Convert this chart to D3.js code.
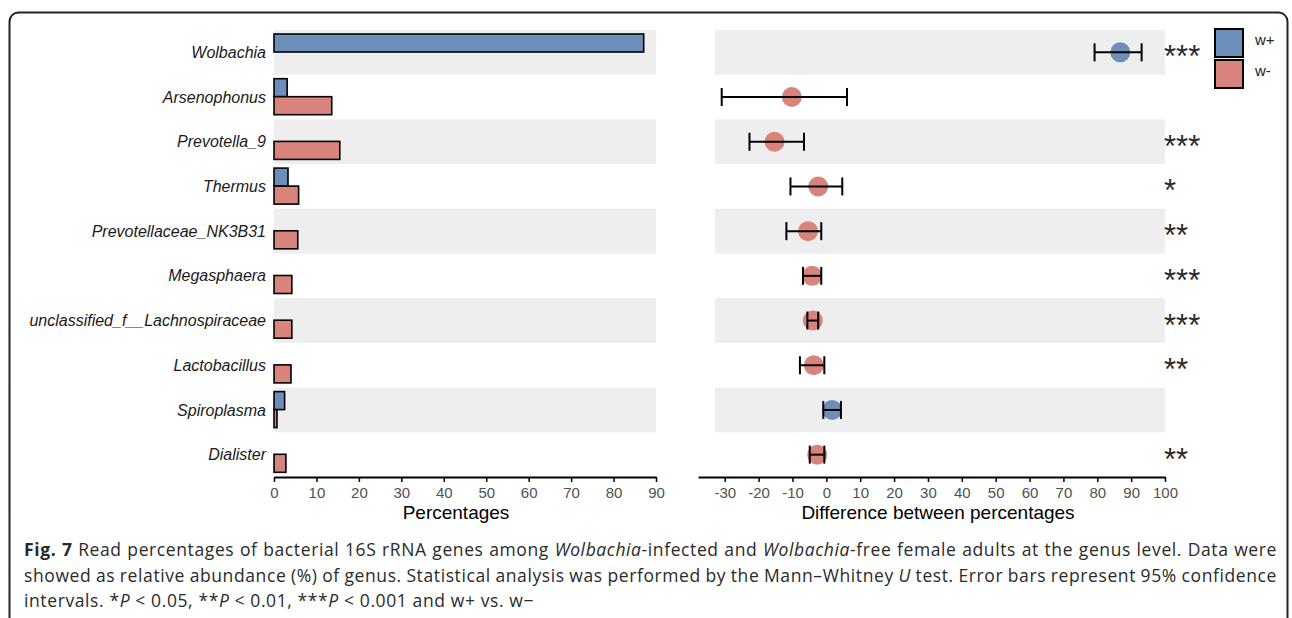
<!DOCTYPE html>
<html>
<head>
<meta charset="utf-8">
<script src="https://cdn.jsdelivr.net/npm/d3@7"></script>
<style>
  body { margin: 0; background: #fff; }
  svg { display: block; }
</style>
</head>
<body>
<script>
// genus level read percentages, w+ vs w-
var genera = ["Wolbachia", "Arsenophonus", "Prevotella_9", "Thermus", "Prevotellaceae_NK3B31",
    "Megasphaera", "unclassified_f__Lachnospiraceae", "Lactobacillus", "Spiroplasma", "Dialister"];
var wPlus  = [87.1, 3.1, 0, 3.3, 0, 0, 0, 0, 2.5, 0];
var wMinus = [0, 13.6, 15.5, 5.8, 5.6, 4.2, 4.2, 4.0, 0.7, 2.8];
// difference between percentages with 95% CI
var diff   = [86.8, -10.2, -15.3, -2.4, -5.4, -4.2, -4.0, -3.7, 1.7, -2.7];
var ciLow  = [79.2, -30.9, -22.7, -10.6, -11.8, -6.9, -5.6, -7.8, -0.9, -4.9];
var ciHigh = [93.1, 6.1, -6.6, 4.7, -1.5, -1.5, -2.4, -0.6, 4.3, -0.6];
var stars  = ["***", "", "***", "*", "**", "***", "***", "**", "", "**"];
var leftTicks = d3.range(0, 91, 10);
var rightTicks = d3.range(-30, 101, 10);
var groups = ["w+", "w-"];

var blue = "#6b8fb8", red = "#d8847c";
var W = 1292, H = 618;

var svg = d3.select("body").append("svg")
    .attr("width", W)
    .attr("height", H);

// frame
svg.append("rect")
    .attr("x", 9.5).attr("y", 12.5)
    .attr("width", 1278).attr("height", 640)
    .attr("rx", 9)
    .style("fill", "none")
    .style("stroke", "#222")
    .style("stroke-width", 2);

var y = d3.scaleBand().domain(genera).range([30, 477]);
var xL = d3.scaleLinear().domain([0, 90]).range([274, 656]);
var xR = d3.scaleLinear().domain([-37.9, 100]).range([698, 1165]);

// grey bands on alternate rows
var striped = genera.filter((g, i) => i % 2 == 0);
svg.selectAll(".bandL").data(striped).enter().append("rect")
    .attr("x", xL(0)).attr("width", xL(90) - xL(0))
    .attr("y", d => y(d)).attr("height", y.bandwidth())
    .style("fill", "#eeeeee");
svg.selectAll(".bandR").data(striped).enter().append("rect")
    .attr("x", xR(-32.9)).attr("width", xR(100) - xR(-32.9))
    .attr("y", d => y(d)).attr("height", y.bandwidth())
    .style("fill", "#eeeeee");

// labels
svg.selectAll(".lab").data(genera).enter().append("text")
    .attr("x", 266)
    .attr("y", d => y(d) + y.bandwidth() / 2)
    .attr("dy", "0.35em")
    .attr("text-anchor", "end")
    .style("font-family", "'Liberation Sans', Arial, sans-serif")
    .style("font-style", "italic")
    .style("font-size", "16px")
    .style("fill", "#1a1a1a")
    .text(d => d);

// bars
var barH = 18;
var bars = [];
genera.forEach(function (g, i) {
    bars.push({g: g, v: wPlus[i], k: 0});
    bars.push({g: g, v: wMinus[i], k: 1});
});
svg.selectAll(".bar").data(bars).enter().append("rect")
    .attr("x", xL(0))
    .attr("y", d => y(d.g) + 4 + d.k * barH)
    .attr("width", d => xL(d.v) - xL(0))
    .attr("height", barH)
    .style("fill", d => d.k == 0 ? blue : red)
    .style("stroke", "#000")
    .style("stroke-width", 1.6);

// axes
function styleAxis(g) {
    g.select(".domain").style("stroke", "#000").style("stroke-width", 2);
    g.selectAll(".tick line").style("stroke", "#000").style("stroke-width", 1.5);
    g.selectAll(".tick text")
        .style("font-family", "'Liberation Sans', Arial, sans-serif")
        .style("font-size", "15px")
        .style("fill", "#505050");
}
svg.append("g")
    .attr("transform", "translate(0,477)")
    .call(d3.axisBottom(xL).tickValues(leftTicks).tickFormat(d => String(d))
        .tickSize(5).tickPadding(5).tickSizeOuter(0))
    .call(styleAxis);
svg.append("g")
    .attr("transform", "translate(0,477)")
    .call(d3.axisBottom(xR).tickValues(rightTicks).tickFormat(d => String(d))
        .tickSize(5).tickPadding(5).tickSizeOuter(0))
    .call(styleAxis);

svg.append("text")
    .attr("x", 456).attr("y", 519)
    .attr("text-anchor", "middle")
    .style("font-family", "'Liberation Sans', Arial, sans-serif")
    .style("font-size", "19px")
    .text("Percentages");
svg.append("text")
    .attr("x", 938).attr("y", 519)
    .attr("text-anchor", "middle")
    .style("font-family", "'Liberation Sans', Arial, sans-serif")
    .style("font-size", "19px")
    .text("Difference between percentages");

// CI dots and whiskers
var pts = genera.map((g, i) => ({g: g, m: diff[i], lo: ciLow[i], hi: ciHigh[i], s: stars[i]}));
svg.selectAll(".dot").data(pts).enter().append("circle")
    .attr("cx", d => xR(d.m))
    .attr("cy", d => y(d.g) + y.bandwidth() / 2)
    .attr("r", 10)
    .style("fill", d => d.m > 0 ? blue : red);

var err = svg.selectAll(".err").data(pts).enter().append("g")
    .attr("transform", d => "translate(0," + (y(d.g) + y.bandwidth() / 2) + ")")
    .style("stroke", "#000")
    .style("stroke-width", 2);
err.append("line").attr("x1", d => xR(d.lo)).attr("x2", d => xR(d.hi));
err.append("line").attr("x1", d => xR(d.lo)).attr("x2", d => xR(d.lo)).attr("y1", -9).attr("y2", 9);
err.append("line").attr("x1", d => xR(d.hi)).attr("x2", d => xR(d.hi)).attr("y1", -9).attr("y2", 9);

// significance
svg.selectAll(".star").data(pts).enter().append("text")
    .attr("x", 1164)
    .attr("y", d => y(d.g) + y.bandwidth() / 2 + 15)
    .style("font-family", "'Liberation Sans', Arial, sans-serif")
    .style("font-size", "31px")
    .style("fill", "#2a2a2a")
    .text(d => d.s);

// legend
var leg = svg.selectAll(".leg").data(groups).enter().append("g")
    .attr("transform", (d, i) => "translate(1215," + (29 + i * 31) + ")");
leg.append("rect")
    .attr("width", 28).attr("height", 28)
    .style("fill", (d, i) => i == 0 ? blue : red)
    .style("stroke", "#000").style("stroke-width", 2);
leg.append("text")
    .attr("x", 40).attr("y", 14).attr("dy", "0.1em")
    .style("font-family", "'Liberation Sans', Arial, sans-serif")
    .style("font-size", "15px")
    .style("fill", "#222")
    .text(d => d);

// caption
var caption = [
    [["Fig. 7", "b"], [" Read percentages of bacterial 16S rRNA genes among ", ""], ["Wolbachia", "i"],
     ["-infected and ", ""], ["Wolbachia", "i"], ["-free female adults at the genus level. Data were", ""]],
    [["showed as relative abundance (%) of genus. Statistical analysis was performed by the Mann\u2013Whitney ", ""],
     ["U", "i"], [" test. Error bars represent 95% confidence", ""]],
    [["intervals. *", ""], ["P", "i"], [" < 0.05, **", ""], ["P", "i"], [" < 0.01, ***", ""], ["P", "i"],
     [" < 0.001 and w+ vs. w\u2212", ""]]
];
var capY = [556, 581.5, 607];
var lines = caption.map(function (parts, li) {
    var t = svg.append("text")
        .attr("x", 24).attr("y", capY[li])
        .style("font-family", "'Open Sans', 'Noto Sans', sans-serif")
        .style("font-size", "17.5px")
        .style("fill", "#2a2a2a");
    parts.forEach(function (p) {
        t.append("tspan")
            .style("font-weight", p[1] == "b" ? "bold" : null)
            .style("font-style", p[1] == "i" ? "italic" : null)
            .text(p[0]);
    });
    return t;
});
// widen the letters to the caption's measure, then justify the first two lines
var strs = caption.map(parts => parts.map(p => p[0]).join(""));
var ls = d3.mean([0, 1], li => (1253 - lines[li].node().getComputedTextLength()) / strs[li].length);
lines.forEach(t => t.style("letter-spacing", ls + "px"));
[0, 1].forEach(function (li) {
    var n = strs[li].split(" ").length - 1;
    var ws = (1253 - lines[li].node().getComputedTextLength()) / n;
    lines[li].style("word-spacing", ws + "px");
});
</script>
</body>
</html>
